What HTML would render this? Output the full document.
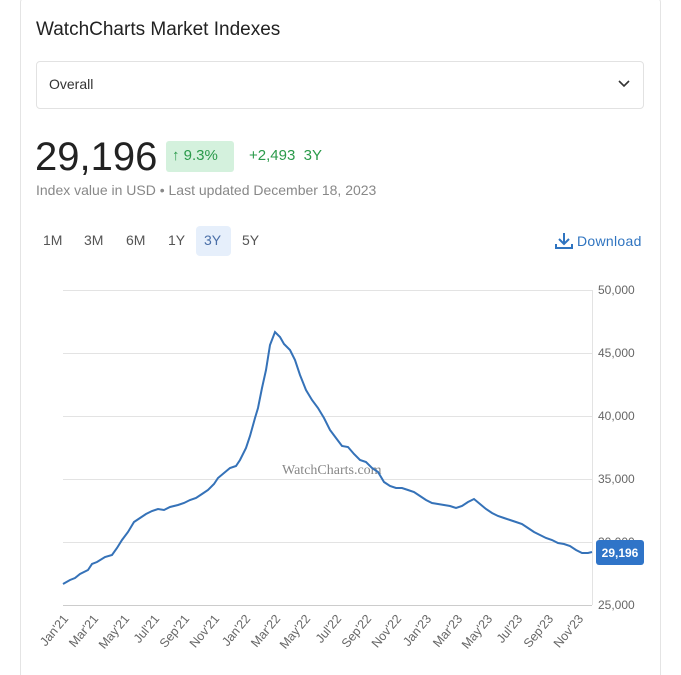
<!DOCTYPE html>
<html><head><meta charset="utf-8"><style>
html,body{margin:0;background:#fff;font-family:"Liberation Sans",sans-serif;width:681px;height:675px;overflow:hidden;position:relative}
.card{position:absolute;left:20px;top:-2px;width:639px;height:690px;border:1px solid #e4e4e4;border-bottom:none;border-radius:4px;}
.wrap{position:absolute;left:0;top:0;width:681px;height:675px;overflow:hidden}
</style></head><body><div class="wrap">
<div class="card"></div>
<div style="position:absolute;left:36px;top:19px;font-size:19px;color:#222;">WatchCharts Market Indexes</div>
<div style="position:absolute;left:36px;top:61px;width:606px;height:46px;border:1px solid #e2e2e2;border-radius:4px;"></div>
<div style="position:absolute;left:49px;top:76px;font-size:14px;color:#333;">Overall</div>
<svg style="position:absolute;left:618px;top:79px" width="12" height="10"><path d="M1 2 L6 7 L11 2" fill="none" stroke="#333" stroke-width="1.6"/></svg>
<div style="position:absolute;left:35px;top:135px;font-size:40px;color:#222;">29,196</div>
<div style="position:absolute;left:166px;top:141px;width:68px;height:31px;background:#d4f1dd;border-radius:3px;"></div>
<div style="position:absolute;left:172px;top:147px;font-size:15px;color:#2a9a4a;">↑ 9.3%</div>
<div style="position:absolute;left:249px;top:147px;font-size:15px;color:#2a9a4a;">+2,493&nbsp; 3Y</div>
<div style="position:absolute;left:36px;top:182px;font-size:14px;color:#888;">Index value in USD • Last updated December 18, 2023</div>
<div style="position:absolute;left:196px;top:226px;width:35px;height:30px;background:#e6effb;border-radius:4px;"></div>
<div style="position:absolute;left:43px;top:232px;font-size:14px;color:#555;">
<span style="position:absolute;left:0">1M</span><span style="position:absolute;left:41px">3M</span><span style="position:absolute;left:83px">6M</span><span style="position:absolute;left:125px">1Y</span><span style="position:absolute;left:161px;color:#4a6fa8">3Y</span><span style="position:absolute;left:199px">5Y</span></div>
<svg style="position:absolute;left:555px;top:232px" width="18" height="18"><path d="M9 1 V12 M4 7 L9 12 L14 7 M1 12 V16 H17 V12" fill="none" stroke="#2f74c0" stroke-width="2"/></svg>
<div style="position:absolute;left:577px;top:233px;font-size:14px;color:#2f74c0;letter-spacing:0.3px">Download</div>
<svg style="position:absolute;left:0;top:0" width="681" height="675">
<g stroke="#e3e3e3" stroke-width="1">
<line x1="63" y1="290.5" x2="592" y2="290.5"/><line x1="63" y1="353.5" x2="592" y2="353.5"/><line x1="63" y1="416.5" x2="592" y2="416.5"/><line x1="63" y1="479.5" x2="592" y2="479.5"/><line x1="63" y1="542.5" x2="592" y2="542.5"/><line x1="63" y1="605.5" x2="592" y2="605.5" stroke="#ccc"/><line x1="592.5" y1="290" x2="592.5" y2="605"/>
</g>
<g font-size="12" fill="#666" font-family="Liberation Sans,sans-serif">
<text x="598" y="294">50,000</text><text x="598" y="357">45,000</text><text x="598" y="420">40,000</text><text x="598" y="483">35,000</text><text x="598" y="546">30,000</text><text x="598" y="609">25,000</text>
</g>
<text x="282" y="474" font-family="Liberation Serif,serif" font-size="14" fill="#888">WatchCharts.com</text>
<polyline fill="none" stroke="#3572b8" stroke-width="2" points="63,584 70,580 75,578 80,574 88,570 92,564 97,562 105,557 112,555 117,548 122,540 128,532 134,522 140,518 146,514 152,511 158,509 164,510 170,507 178,505 184,503 190,500 196,498 202,494 208,490 214,484 218,478 224,473 230,468 236,466 240,460 246,448 250,436 255,418 258,408 262,388 266,370 270,345 275,332 280,337 284,344 290,350 295,360 300,375 306,390 312,400 318,408 324,418 330,430 336,438 342,446 348,447 354,454 360,460 366,462 372,468 378,472 384,482 390,486 396,488 402,488 408,490 414,492 420,496 426,500 432,503 438,504 444,505 450,506 456,508 462,506 468,502 474,499 480,504 486,509 492,513 498,516 504,518 510,520 516,522 522,524 528,528 534,532 540,535 546,538 552,540 558,543 564,544 570,546 576,550 582,553 588,553 592,552"/>
<rect x="596" y="540" width="48" height="25" rx="3" fill="#2f74c8"/>
<text x="620" y="557" text-anchor="middle" font-size="12" font-weight="bold" fill="#fff" font-family="Liberation Sans,sans-serif">29,196</text>
<g font-size="12.5" fill="#666" font-family="Liberation Sans,sans-serif" text-anchor="end">
<text transform="translate(69,619) rotate(-50)">Jan'21</text>
<text transform="translate(99,619) rotate(-50)">Mar'21</text>
<text transform="translate(130,619) rotate(-50)">May'21</text>
<text transform="translate(160,619) rotate(-50)">Jul'21</text>
<text transform="translate(190,619) rotate(-50)">Sep'21</text>
<text transform="translate(220,619) rotate(-50)">Nov'21</text>
<text transform="translate(251,619) rotate(-50)">Jan'22</text>
<text transform="translate(281,619) rotate(-50)">Mar'22</text>
<text transform="translate(311,619) rotate(-50)">May'22</text>
<text transform="translate(342,619) rotate(-50)">Jul'22</text>
<text transform="translate(372,619) rotate(-50)">Sep'22</text>
<text transform="translate(402,619) rotate(-50)">Nov'22</text>
<text transform="translate(432,619) rotate(-50)">Jan'23</text>
<text transform="translate(463,619) rotate(-50)">Mar'23</text>
<text transform="translate(493,619) rotate(-50)">May'23</text>
<text transform="translate(523,619) rotate(-50)">Jul'23</text>
<text transform="translate(554,619) rotate(-50)">Sep'23</text>
<text transform="translate(584,619) rotate(-50)">Nov'23</text>
</g>
</svg>
</div></body></html>
